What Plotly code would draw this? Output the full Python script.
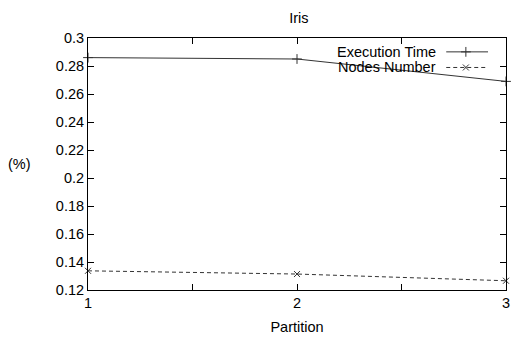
import plotly.graph_objects as go

# Data
partitions = [1, 2, 3]
execution_time = [0.286, 0.285, 0.269]
nodes_number = [0.1337, 0.1314, 0.1266]
series_names = ["Execution Time", "Nodes Number"]
y_ticks = [0.12, 0.14, 0.16, 0.18, 0.2, 0.22, 0.24, 0.26, 0.28, 0.3]
y_tick_labels = ["0.12", "0.14", "0.16", "0.18", "0.2", "0.22", "0.24", "0.26", "0.28", "0.3"]
x_ticks = [1, 1.5, 2, 2.5, 3]
x_tick_labels = ["1", "", "2", "", "3"]

FONT = "Liberation Sans, Arial, Helvetica, sans-serif"
FS = 14.5
LINE_COLOR = "#333333"

fig = go.Figure()

fig.add_trace(go.Scatter(
    x=partitions, y=execution_time, mode="lines+markers", name=series_names[0],
    line=dict(color=LINE_COLOR, width=1),
    marker=dict(symbol="cross-thin-open", size=7, color=LINE_COLOR, line=dict(color=LINE_COLOR, width=1)),
    cliponaxis=False, showlegend=False,
))
fig.add_trace(go.Scatter(
    x=partitions, y=nodes_number, mode="lines+markers", name=series_names[1],
    line=dict(color=LINE_COLOR, width=1, dash="4px,3px"),
    marker=dict(symbol="x-thin-open", size=6, color=LINE_COLOR, line=dict(color=LINE_COLOR, width=1)),
    cliponaxis=False, showlegend=False,
))

# Legend (gnuplot style: text right-aligned, sample on the right)
leg_y = [0.945, 0.883]
leg_styles = [("solid", "cross-thin-open", 7), ("4px,3px", "x-thin-open", 6)]
for name, ly, (dash, sym, sz) in zip(series_names, leg_y, leg_styles):
    fig.add_trace(go.Scatter(
        x=[0.857, 0.957], y=[ly, ly], mode="lines", xaxis="x2", yaxis="y2",
        line=dict(color=LINE_COLOR, width=1, dash=dash), showlegend=False, hoverinfo="skip",
    ))
    fig.add_trace(go.Scatter(
        x=[0.904], y=[ly], mode="markers", xaxis="x2", yaxis="y2",
        marker=dict(symbol=sym, size=sz, color=LINE_COLOR, line=dict(color=LINE_COLOR, width=1)),
        showlegend=False, hoverinfo="skip",
    ))
    fig.add_annotation(
        x=0.838, y=ly, xref="paper", yref="paper", text=name, showarrow=False,
        xanchor="right", yanchor="middle", font=dict(family=FONT, size=FS, color="#000"),
    )

axis_common = dict(
    showline=True, linecolor="#000", linewidth=1, mirror="ticks",
    ticks="inside", ticklen=6, tickcolor="#000", tickwidth=1,
    showgrid=False, zeroline=False,
    tickfont=dict(family=FONT, size=FS, color="#000"),
)

fig.update_layout(
    width=518, height=341,
    margin=dict(l=88, r=8, t=38, b=50),
    paper_bgcolor="white", plot_bgcolor="white",
    font=dict(family=FONT, size=FS, color="#000"),
    title=dict(text="Iris", x=0.577, xanchor="center", y=0.947, yanchor="middle",
               font=dict(family=FONT, size=FS, color="#000")),
    xaxis=dict(range=[1, 3], tickvals=x_ticks, ticktext=x_tick_labels,
               title=dict(text="Partition", standoff=11, font=dict(family=FONT, size=FS)),
               **axis_common),
    yaxis=dict(range=[0.12, 0.3], tickvals=y_ticks, ticktext=y_tick_labels, **axis_common),
    xaxis2=dict(overlaying="x", range=[0, 1], visible=False, fixedrange=True),
    yaxis2=dict(overlaying="y", range=[0, 1], visible=False, fixedrange=True),
)

fig.add_annotation(x=-0.195, y=(341 - 165 - 50) / 253, xref="paper", yref="paper",
                   text="(%)", showarrow=False, xanchor="left", yanchor="middle",
                   font=dict(family=FONT, size=FS, color="#000"))

fig.write_html("out.html")
